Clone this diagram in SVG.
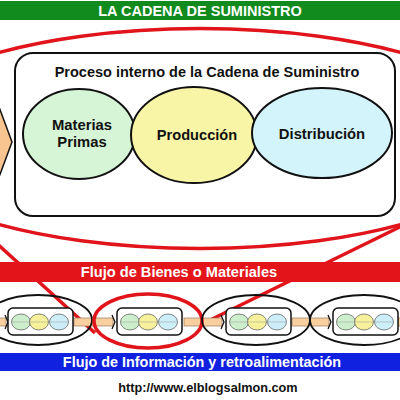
<svg xmlns="http://www.w3.org/2000/svg" width="400" height="400" viewBox="0 0 400 400">
<defs>
<style>
.t{font-family:"Liberation Sans",Arial,sans-serif;font-weight:bold;text-anchor:middle}
.w{fill:#fff}
.k{fill:#111}
.band{stroke:none}
.red{fill:none;stroke:#e0141a;stroke-width:3.5}
.node{stroke:#111;stroke-width:2}
.lk{fill:none;stroke:#111;stroke-width:1.8}
.mr{fill:#fff;stroke:#111;stroke-width:1.5}
.c{stroke:#666;stroke-width:0.8}
.g{fill:#cdeecd}.y{fill:#f6f19a}.b{fill:#cdeef8}
.bar{fill:#f9cfa0;stroke:#9a7a5a;stroke-width:0.7}
.tip{fill:none;stroke:#111;stroke-width:1.3}
</style>
<g id="mini">
<rect class="mr" x="0" y="308" width="65" height="27" rx="5"/>
<ellipse class="c g" cx="13" cy="322" rx="9.5" ry="8"/>
<ellipse class="c y" cx="31" cy="322" rx="9.5" ry="8"/>
<ellipse class="c b" cx="51" cy="322" rx="9.5" ry="8"/>
<line x1="4" y1="322" x2="61" y2="322" stroke="#999" stroke-width="0.5"/>
</g>
</defs>
<rect width="400" height="400" fill="#fff"/>

<g id="banner-top">
<rect class="band" x="0" y="1" width="400" height="19" fill="#118a1e"/>
<text class="t w" x="200" y="16" font-size="14.5">LA CADENA DE SUMINISTRO</text>
</g>

<g id="connectors">
<ellipse class="red" cx="200" cy="138.5" rx="322" ry="110"/>
<line class="red" x1="-20" y1="228" x2="95" y2="333"/>
<line class="red" x1="410" y1="222" x2="200" y2="325"/>
</g>

<g id="previous-stage">
<polygon points="-40,107 -1,107 12,142 -1,177 -40,177" fill="#f8c490" stroke="#111" stroke-width="1.5"/>
</g>

<g id="process-box">
<rect x="15" y="53" width="380" height="163" rx="18" fill="#fff" stroke="#111" stroke-width="2"/>
<text class="t k" x="207" y="77" font-size="14.5">Proceso interno de la Cadena de Suministro</text>
</g>

<g id="materias-primas">
<ellipse class="node" cx="79" cy="134" rx="56" ry="45" fill="#d6f4d6"/>
<text class="t k" x="82" y="130" font-size="14.8">Materias</text>
<text class="t k" x="82" y="147" font-size="14.8">Primas</text>
</g>
<g id="produccion">
<ellipse class="node" cx="194" cy="135" rx="63" ry="48" fill="#f8f5a6"/>
<text class="t k" x="197" y="140" font-size="14.6">Producción</text>
</g>
<g id="distribucion">
<ellipse class="node" cx="322" cy="133" rx="70" ry="45" fill="#d2f4fa"/>
<text class="t k" x="322" y="139" font-size="14.8">Distribución</text>
</g>

<g id="banner-goods">
<rect class="band" x="0" y="262" width="400" height="20" fill="#e4141b"/>
<text class="t w" x="179" y="277" font-size="14.6">Flujo de Bienes o Materiales</text>
</g>

<g id="chain">
<rect class="bar" x="-2" y="318" width="8" height="8"/>
<path class="tip" d="M5,315 L8,322 L5,329"/>
<rect class="bar" x="74" y="318" width="39" height="8"/>
<path class="tip" d="M112,315 L115,322 L112,329"/>
<rect class="bar" x="184" y="318" width="38" height="8"/>
<path class="tip" d="M221,315 L224,322 L221,329"/>
<rect class="bar" x="292" y="318" width="37" height="8"/>
<path class="tip" d="M328,315 L331,322 L328,329"/>
<rect class="bar" x="398" y="318" width="6" height="8"/>
<use href="#mini" x="8"/>
<use href="#mini" x="117"/>
<use href="#mini" x="226"/>
<use href="#mini" x="333"/>
</g>
<g id="link-1"><ellipse class="lk" cx="38" cy="320" rx="54" ry="25"/></g>
<g id="link-2"><ellipse class="red" cx="148" cy="321" rx="54" ry="27"/></g>
<g id="link-3"><ellipse class="lk" cx="256" cy="320" rx="54" ry="25"/></g>
<g id="link-4"><ellipse class="lk" cx="364" cy="320" rx="54" ry="25"/></g>

<g id="banner-info">
<rect class="band" x="0" y="353" width="400" height="18" fill="#1022e0"/>
<text class="t w" x="202" y="367" font-size="14.4">Flujo de Información y retroalimentación</text>
</g>

<g id="source">
<text class="t k" x="208" y="392" font-size="12.7">http://www.elblogsalmon.com</text>
</g>
</svg>
